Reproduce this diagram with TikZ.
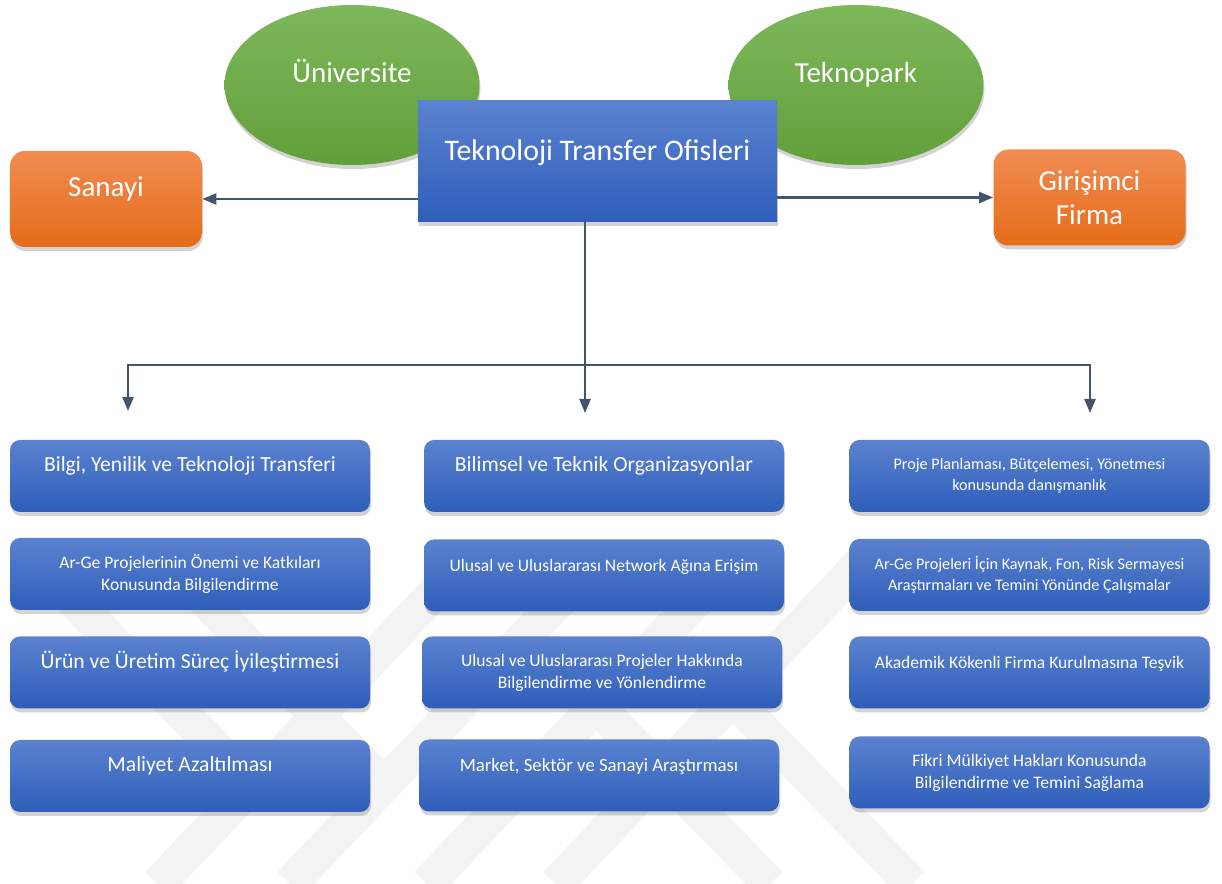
\documentclass[tikz,border=0pt]{standalone}
\usepackage{fontspec}
\setmainfont{Carlito}
\usetikzlibrary{shapes.geometric,shadows,arrows.meta}
\definecolor{boxtop}{HTML}{5B82CF}
\definecolor{boxbot}{HTML}{2E5EBA}
\definecolor{sidetop}{HTML}{F18C52}
\definecolor{sidebot}{HTML}{E56C19}
\definecolor{bubbletop}{HTML}{7EB75C}
\definecolor{bubblebot}{HTML}{61A039}
\definecolor{linkcol}{HTML}{44546A}
\definecolor{markgray}{HTML}{F3F3F3}
\tikzset{
  softshadow/.style={drop shadow={opacity=0.35, shadow xshift=0.02cm, shadow yshift=-0.08cm}},
  item/.style={rounded corners=0.2cm, top color=boxtop, bottom color=boxbot, text=white, align=center,
    minimum width=7.2cm, minimum height=1.44cm, softshadow, font=\fontsize{10}{12.5}\selectfont},
  itemsmall/.style={item, font=\fontsize{9.2}{11.8}\selectfont},
  itemlarge/.style={item, font=\fontsize{12.3}{15}\selectfont},
  lifted/.style={text height=9pt, text depth=14pt},
  side/.style={rounded corners=0.3cm, top color=sidetop, bottom color=sidebot, text=white, align=center,
    minimum width=3.84cm, minimum height=1.92cm, softshadow, font=\fontsize{16.5}{19.5}\selectfont},
  bubble/.style={ellipse, top color=bubbletop, bottom color=bubblebot, text=white, minimum width=5.1cm,
    minimum height=3.2cm, softshadow, font=\fontsize{16.5}{19.5}\selectfont, text height=12pt, text depth=14.5pt},
  link/.style={draw=linkcol, line width=1.3pt, -{Triangle[length=0.28cm,width=0.22cm]}},
  trunk/.style={draw=linkcol, line width=1pt},
  band/.style={draw=markgray, line width=0.7cm}
}
\begin{document}
\begin{tikzpicture}[x=1cm,y=1cm]
\useasboundingbox (0,0) rectangle (24.44,-17.68);
% faint watermark in the background
\draw[band] (9.32,-11.2) -- (3.16,-17.68);
\draw[band] (11.96,-11.2) -- (5.8,-17.68);
\draw[band] (14.7,-11.2) -- (8.54,-17.68);
\draw[band] (17.28,-11.2) -- (11.12,-17.68);
\draw[band] (0.68,-11.2) -- (5.04,-15.7);
\draw[band] (3.32,-11.2) -- (7.68,-15.7);
\draw[band] (11.92,-14.1) -- (15.4,-17.68);
\draw[band] (14.66,-13.98) -- (18.24,-17.68);
% top part
\node[bubble] (uni) at (7.04,-1.7) {Üniversite};
\node[bubble] (tekno) at (17.12,-1.7) {Teknopark};
\node[rounded corners=0pt, top color=boxtop, bottom color=boxbot, text=white, minimum width=7.18cm, minimum height=2.42cm,
  softshadow, font=\fontsize{17}{20}\selectfont, text height=12pt, text depth=12.8pt] (tto) at (11.95,-3.23) {Teknoloji Transfer Ofisleri};
\node[side, text height=12pt, text depth=14.5pt] (sanayi) at (2.12,-3.98) {Sanayi};
\node[side] (girisim) at (21.79,-3.95) {Girişimci\\Firma};
\draw[link] (tto.west |- sanayi.east) -- (sanayi.east);
\draw[link] (tto.east |- girisim.west) -- (girisim.west);
% branches
\coordinate (hub) at (11.7,-7.3);
\coordinate (tipleft) at (2.56,-8.22);
\coordinate (tipmid) at (11.7,-8.26);
\coordinate (tipright) at (21.8,-8.26);
\draw[trunk] (tto.south -| hub) -- (hub);
\draw[link] (hub) -| (tipleft);
\draw[link] (hub) -- (tipmid);
\draw[link] (hub) -| (tipright);
% first column
\node[itemlarge, lifted] (bilgi) at (3.8,-9.52) {Bilgi, Yenilik ve Teknoloji Transferi};
\node[item] (arge) at (3.8,-11.48) {Ar-Ge Projelerinin Önemi ve Katkıları\\Konusunda Bilgilendirme};
\node[itemlarge, lifted] (urun) at (3.8,-13.45) {Ürün ve Üretim Süreç İyileştirmesi};
\node[itemlarge, lifted] (maliyet) at (3.8,-15.52) {Maliyet Azaltılması};
% second column
\node[itemlarge, lifted] (bilimsel) at (12.08,-9.52) {Bilimsel ve Teknik Organizasyonlar};
\node[item, lifted] (network) at (12.08,-11.51) {Ulusal ve Uluslararası Network Ağına Erişim};
\node[item] (projeler) at (12.04,-13.45) {Ulusal ve Uluslararası Projeler Hakkında\\Bilgilendirme ve Yönlendirme};
\node[item, lifted, font=\fontsize{10.7}{13}\selectfont] (market) at (11.98,-15.51) {Market, Sektör ve Sanayi Araştırması};
% third column
\node[itemsmall] (planlama) at (20.59,-9.52) {Proje Planlaması, Bütçelemesi, Yönetmesi\\konusunda danışmanlık};
\node[itemsmall] (kaynak) at (20.59,-11.5) {Ar-Ge Projeleri İçin Kaynak, Fon, Risk Sermayesi\\Araştırmaları ve Temini Yönünde Çalışmalar};
\node[item, lifted] (akademik) at (20.59,-13.45) {Akademik Kökenli Firma Kurulmasına Teşvik};
\node[item] (fikri) at (20.59,-15.45) {Fikri Mülkiyet Hakları Konusunda\\Bilgilendirme ve Temini Sağlama};
\end{tikzpicture}
\end{document}
